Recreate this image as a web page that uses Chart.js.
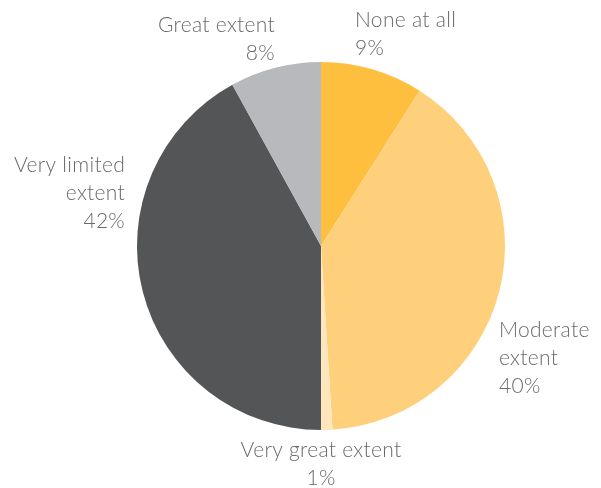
<!DOCTYPE html>
<html>
<head>
<meta charset="utf-8">
<script src="https://cdn.jsdelivr.net/npm/chart.js@4/dist/chart.umd.min.js"></script>
<style>
  html, body { margin: 0; padding: 0; background: #ffffff; }
  #wrap { width: 601px; height: 488px; }
</style>
</head>
<body>
<div id="wrap"><canvas id="c" width="601" height="488"></canvas></div>
<script>
// Survey responses, clockwise from 12 o'clock
const categories = ['None at all', 'Moderate extent', 'Very great extent', 'Very limited extent', 'Great extent'];
const shares = [9, 40, 1, 42, 8];
const sliceColors = ['#FEBF3E', '#FFD07C', '#FFE6BC', '#545557', '#B8B9BC'];

// Label text lines per slice (percentage added from the data)
const labelLines = [
  ['None at all'],
  ['Moderate', 'extent'],
  ['Very great extent'],
  ['Very limited', 'extent'],
  ['Great extent']
];

// Where each label block sits, in units of the pie radius from its centre
const labelLayout = [
  { dx: 0.185, dy: -1.228, align: 'left' },
  { dx: 0.967, dy: 0.457, align: 'left' },
  { dx: 0.0, dy: 1.109, align: 'center' },
  { dx: -1.065, dy: -0.44, align: 'right' },
  { dx: -0.25, dy: -1.20, align: 'right' }
];

const outsideLabels = {
  id: 'outsideLabels',
  afterDraw(chart) {
    const arc = chart.getDatasetMeta(0).data[0];
    if (!arc) return;
    const { x: cx, y: cy, outerRadius: r } = arc;
    const ctx = chart.ctx;
    const lineH = 28;
    ctx.save();
    ctx.fillStyle = '#6a6a6a';
    ctx.font = '300 21px Lato, "Open Sans", sans-serif';
    ctx.letterSpacing = '0.3px';
    ctx.textBaseline = 'middle';
    shares.forEach((v, i) => {
      const lay = labelLayout[i];
      const lines = labelLines[i].concat([v + '%']);
      ctx.textAlign = lay.align;
      const x = cx + lay.dx * r;
      let y = cy + lay.dy * r;
      lines.forEach(t => { ctx.fillText(t, x, y); y += lineH; });
    });
    ctx.restore();
  }
};

new Chart(document.getElementById('c'), {
  type: 'pie',
  data: {
    labels: categories,
    datasets: [{
      data: shares,
      backgroundColor: sliceColors,
      borderWidth: 0
    }]
  },
  options: {
    responsive: false,
    animation: false,
    layout: { padding: { left: 137, right: 96, top: 62, bottom: 58 } },
    plugins: {
      legend: { display: false },
      tooltip: { enabled: false }
    }
  },
  plugins: [outsideLabels]
});
</script>
</body>
</html>
